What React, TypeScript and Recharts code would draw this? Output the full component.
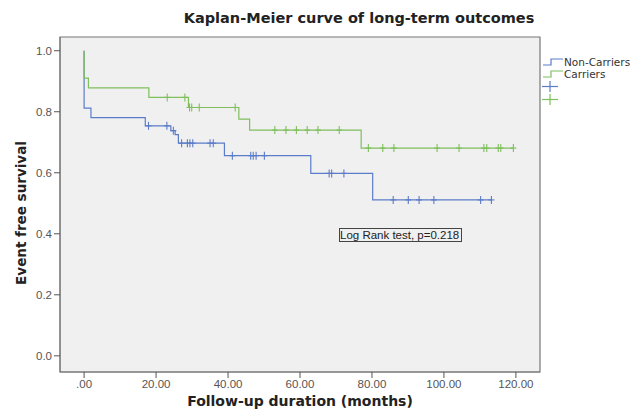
import React from 'react';
import {
  ComposedChart,
  Line,
  Scatter,
  XAxis,
  YAxis,
  CartesianGrid,
  ReferenceArea,
} from 'recharts';

// step points of the survival curves (time in months, survival)
const nonCarrierSteps = [
  { t: 0, s: 1.0 },
  { t: 0, s: 0.812 },
  { t: 1.9, s: 0.781 },
  { t: 17, s: 0.754 },
  { t: 24.1, s: 0.738 },
  { t: 25.3, s: 0.725 },
  { t: 26.2, s: 0.697 },
  { t: 39, s: 0.656 },
  { t: 63, s: 0.598 },
  { t: 80.2, s: 0.511 },
  { t: 113.2, s: 0.511 },
];

const carrierSteps = [
  { t: 0, s: 1.0 },
  { t: 0, s: 0.91 },
  { t: 1.2, s: 0.878 },
  { t: 18, s: 0.847 },
  { t: 29, s: 0.814 },
  { t: 43, s: 0.776 },
  { t: 46, s: 0.74 },
  { t: 77, s: 0.681 },
  { t: 119.3, s: 0.681 },
];

// censored observations
const nonCarrierCensored = [
  { t: 17.9, s: 0.754 },
  { t: 23, s: 0.754 },
  { t: 24.8, s: 0.738 },
  { t: 27.1, s: 0.697 },
  { t: 28.7, s: 0.697 },
  { t: 29.4, s: 0.697 },
  { t: 30.2, s: 0.697 },
  { t: 35, s: 0.697 },
  { t: 35.9, s: 0.697 },
  { t: 41.2, s: 0.656 },
  { t: 46.3, s: 0.656 },
  { t: 47, s: 0.656 },
  { t: 47.8, s: 0.656 },
  { t: 50.1, s: 0.656 },
  { t: 68.1, s: 0.598 },
  { t: 68.8, s: 0.598 },
  { t: 72.2, s: 0.598 },
  { t: 85.9, s: 0.511 },
  { t: 90.1, s: 0.511 },
  { t: 93.1, s: 0.511 },
  { t: 97.2, s: 0.511 },
  { t: 110.2, s: 0.511 },
  { t: 113.2, s: 0.511 },
];

const carrierCensored = [
  { t: 23.1, s: 0.847 },
  { t: 28, s: 0.847 },
  { t: 29.3, s: 0.814 },
  { t: 29.9, s: 0.814 },
  { t: 32, s: 0.814 },
  { t: 42, s: 0.814 },
  { t: 53, s: 0.74 },
  { t: 56.1, s: 0.74 },
  { t: 59, s: 0.74 },
  { t: 62, s: 0.74 },
  { t: 65, s: 0.74 },
  { t: 70.9, s: 0.74 },
  { t: 79, s: 0.681 },
  { t: 83, s: 0.681 },
  { t: 86.1, s: 0.681 },
  { t: 98.1, s: 0.681 },
  { t: 104.2, s: 0.681 },
  { t: 111.1, s: 0.681 },
  { t: 111.9, s: 0.681 },
  { t: 115.1, s: 0.681 },
  { t: 115.8, s: 0.681 },
  { t: 119.3, s: 0.681 },
];

const xTicks = [0, 20, 40, 60, 80, 100, 120];
const yTicks = [0, 0.2, 0.4, 0.6, 0.8, 1.0];

const BLUE = '#5b7cc8';
const GREEN = '#7fbf5c';
const X_DOMAIN = [-6.7, 126.7];
const Y_DOMAIN = [-0.053, 1.045];

const Plus = (color: string) => (props: any) => {
  const { cx, cy } = props;
  if (cx == null || cy == null) return null;
  return (
    <g>
      <line x1={cx} y1={cy - 4} x2={cx} y2={cy + 4} stroke={color} strokeWidth={1.1} />
      <line x1={cx - 3} y1={cy} x2={cx + 3} y2={cy} stroke={color} strokeWidth={1.1} />
    </g>
  );
};

const StepIcon = ({ color }: { color: string }) => (
  <svg width={21} height={10} style={{ marginRight: 1, flex: 'none' }}>
    <polyline points="1,8 9,8 9,2 21,2" fill="none" stroke={color} strokeWidth={1.2} />
  </svg>
);

const PlusIcon = ({ color }: { color: string }) => (
  <svg width={20} height={13}>
    <line x1={8} y1={1} x2={8} y2={12} stroke={color} strokeWidth={1.2} />
    <line x1={0} y1={6.5} x2={16} y2={6.5} stroke={color} strokeWidth={1.2} />
  </svg>
);

export default function App() {
  return (
    <div
      style={{
        position: 'absolute',
        left: 0,
        top: 0,
        width: 630,
        height: 415,
        background: '#fff',
        overflow: 'hidden',
      }}
    >
      <div
        style={{
          position: 'absolute',
          left: 0,
          width: 718,
          top: 10,
          textAlign: 'center',
          fontFamily: '"DejaVu Sans", sans-serif',
          fontWeight: 'bold',
          fontSize: 14.5,
          color: '#222',
        }}
      >
        Kaplan-Meier curve of long-term outcomes
      </div>

      <ComposedChart
        width={630}
        height={415}
        margin={{ top: 37, right: 90, bottom: 13, left: 35 }}
      >
        <CartesianGrid fill="#f0f0f0" horizontal={false} vertical={false} />
        <XAxis
          type="number"
          dataKey="t"
          domain={X_DOMAIN}
          ticks={xTicks}
          allowDataOverflow
          height={30}
          tickSize={6}
          axisLine={{ stroke: '#777' }}
          tickLine={{ stroke: '#555' }}
          tick={{ fill: '#555', fontSize: 11.5, fontFamily: '"Liberation Sans", sans-serif' }}
          tickFormatter={(v: number) => (v === 0 ? '.00' : v.toFixed(2))}
        />
        <YAxis
          type="number"
          dataKey="s"
          domain={Y_DOMAIN}
          ticks={yTicks}
          allowDataOverflow
          width={25}
          tickSize={6}
          axisLine={{ stroke: '#777' }}
          tickLine={{ stroke: '#555' }}
          tick={{ fill: '#555', fontSize: 11.5, fontFamily: '"Liberation Sans", sans-serif' }}
          tickFormatter={(v: number) => v.toFixed(1)}
        />
        <ReferenceArea
          x1={X_DOMAIN[0]}
          x2={X_DOMAIN[1]}
          y1={Y_DOMAIN[0]}
          y2={Y_DOMAIN[1]}
          fill="none"
          fillOpacity={0}
          stroke="#777"
          strokeWidth={1.2}
        />
        <Line
          data={nonCarrierSteps}
          dataKey="s"
          type="stepAfter"
          stroke={BLUE}
          strokeWidth={1.2}
          dot={false}
          isAnimationActive={false}
          name="Non-Carriers"
        />
        <Line
          data={carrierSteps}
          dataKey="s"
          type="stepAfter"
          stroke={GREEN}
          strokeWidth={1.2}
          dot={false}
          isAnimationActive={false}
          name="Carriers"
        />
        <Scatter
          data={nonCarrierCensored}
          dataKey="s"
          shape={Plus(BLUE)}
          isAnimationActive={false}
        />
        <Scatter
          data={carrierCensored}
          dataKey="s"
          shape={Plus(GREEN)}
          isAnimationActive={false}
        />
      </ComposedChart>

      {/* legend */}
      <div
        style={{
          position: 'absolute',
          left: 542,
          top: 56,
          width: 100,
          fontFamily: '"DejaVu Sans", sans-serif',
          fontSize: 10.5,
          color: '#333',
          lineHeight: '12px',
          whiteSpace: 'nowrap',
        }}
      >
        <div style={{ display: 'flex', alignItems: 'center' }}>
          <StepIcon color={BLUE} />
          Non-Carriers
        </div>
        <div style={{ display: 'flex', alignItems: 'center' }}>
          <StepIcon color={GREEN} />
          Carriers
        </div>
        <div style={{ display: 'flex', alignItems: 'center' }}>
          <PlusIcon color={BLUE} />
        </div>
        <div style={{ display: 'flex', alignItems: 'center' }}>
          <PlusIcon color={GREEN} />
        </div>
      </div>

      <div
        style={{
          position: 'absolute',
          left: 339,
          top: 228,
          width: 121,
          height: 12,
          border: '1px solid #444',
          fontFamily: '"Liberation Sans", sans-serif',
          fontSize: 11.5,
          lineHeight: '12px',
          color: '#222',
          whiteSpace: 'nowrap',
          overflow: 'hidden',
        }}
      >
        Log Rank test, p=0.218
      </div>

      <div
        style={{
          position: 'absolute',
          left: 60,
          width: 480,
          top: 393,
          textAlign: 'center',
          fontFamily: '"DejaVu Sans", sans-serif',
          fontWeight: 'bold',
          fontSize: 14,
          color: '#222',
        }}
      >
        Follow-up duration (months)
      </div>

      <div
        style={{
          position: 'absolute',
          left: 21,
          top: 213,
          transform: 'translate(-50%, -50%) rotate(-90deg)',
          whiteSpace: 'nowrap',
          fontFamily: '"DejaVu Sans", sans-serif',
          fontWeight: 'bold',
          fontSize: 13.5,
          color: '#222',
        }}
      >
        Event free survival
      </div>
    </div>
  );
}
